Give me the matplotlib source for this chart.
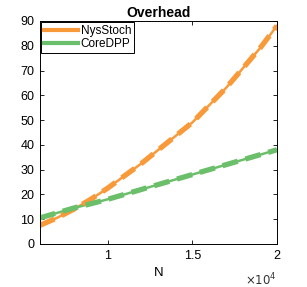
import numpy as np
import matplotlib
matplotlib.use('Agg')
import matplotlib.pyplot as plt

N = [6000, 7000, 8000, 9000, 10000, 11000, 12000, 13000, 14000, 15000, 16000, 17000, 18000, 19000, 20000]
nys_stoch = [7.5, 10.5, 14, 18, 22.5, 27.5, 32.5, 38, 43.5, 49, 56, 63, 71, 79, 88]
core_dpp = [10.5, 12.5, 14.5, 16.2, 18, 20, 22, 24, 26, 28, 30, 32, 34, 36, 38]

plt.rcParams['font.family'] = ['Liberation Sans', 'DejaVu Sans']

orange = '#F89A3A'
green = '#6CBF6A'

fig = plt.figure(figsize=(3.07, 2.87), dpi=100)
ax = fig.add_axes([0.130, 0.150, 0.772, 0.777])

x = np.array(N) / 1e4
# thin solid + thick dashed, MATLAB style
ax.plot(x, nys_stoch, color=orange, lw=1.8)
ax.plot(x, core_dpp, color=green, lw=1.8)
ax.plot(x, nys_stoch, color=orange, lw=3.8, dashes=(3, 1.5))
ax.plot(x, core_dpp, color=green, lw=3.8, dashes=(3, 1.5))

h1, = ax.plot([], [], color=orange, lw=3)
h2, = ax.plot([], [], color=green, lw=3)
leg = ax.legend([h1, h2], ['NysStoch', 'CoreDPP'], loc='upper left', fontsize=8.5,
                handlelength=2.9, borderaxespad=0.1, borderpad=0.25, labelspacing=0.1,
                handletextpad=0.2, fancybox=False, framealpha=1)
leg.get_frame().set_edgecolor('black')
leg.get_frame().set_linewidth(0.7)

ax.set_xlim(0.6, 2.0)
ax.set_ylim(0, 90)
ax.set_xticks([1, 1.5, 2])
ax.set_xticklabels(['1', '1.5', '2'])
ax.set_yticks(range(0, 91, 10))
ax.tick_params(direction='in', top=True, right=True, labelsize=9, length=3, width=0.6, pad=4)
for s in ax.spines.values():
    s.set_linewidth(0.7)
ax.set_title('Overhead', fontsize=10, fontweight='bold', pad=3)
ax.set_xlabel('N', fontsize=9.5, labelpad=4)
ax.text(1.0, -0.16, r'$\times10^4$', transform=ax.transAxes, ha='right', va='center', fontsize=8.5, color='#333333')

fig.savefig('out.png', dpi=100)
